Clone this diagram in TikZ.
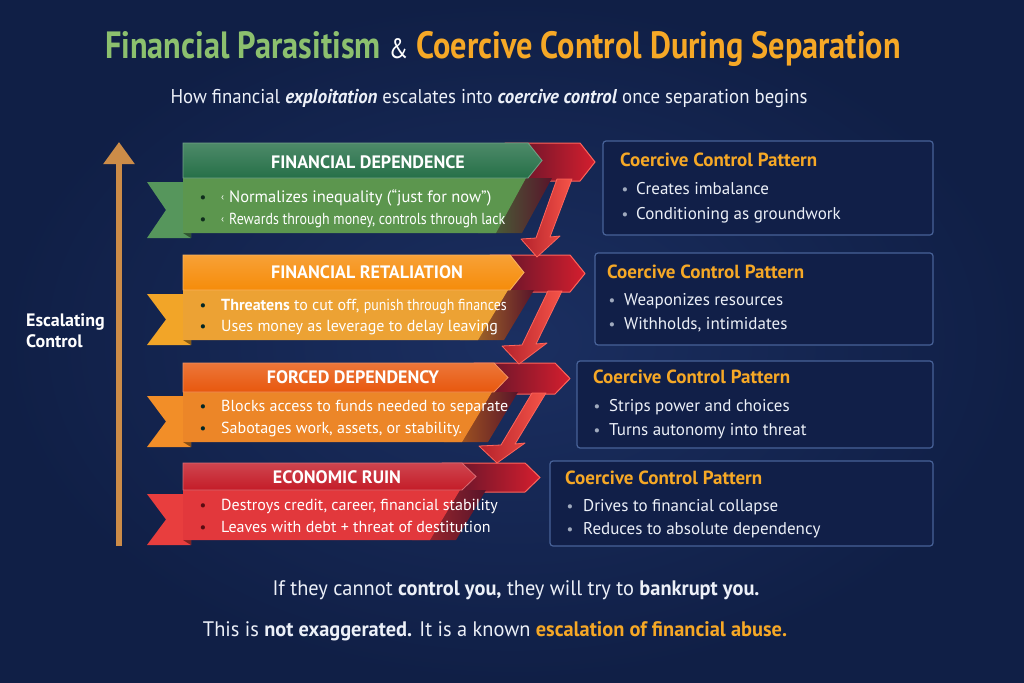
\documentclass[tikz,border=0pt]{standalone}
\usepackage{fontspec}
\setmainfont{PT Sans}
\newfontfamily\titlefont[FakeStretch=0.85]{PT Sans}
\newfontfamily\condfont[FakeStretch=0.94]{PT Sans}
\newfontfamily\bottomfont[FakeStretch=0.97]{PT Sans}
\newfontfamily\narrowfont[FakeStretch=0.87]{PT Sans}
\usetikzlibrary{arrows.meta,fadings}

\definecolor{bgA}{RGB}{27,47,97}
\definecolor{bgB}{RGB}{16,31,70}
\definecolor{tgreen}{RGB}{140,192,110}
\definecolor{torange}{RGB}{246,168,38}
\definecolor{txt}{RGB}{236,240,248}
\definecolor{linec}{RGB}{120,150,205}
\definecolor{arrowtan}{RGB}{204,140,72}
\definecolor{gH}{RGB}{38,112,72}
\definecolor{gB}{RGB}{92,150,78}
\definecolor{gT}{RGB}{86,150,92}
\definecolor{oaH}{RGB}{246,140,10}
\definecolor{oaB}{RGB}{236,162,52}
\definecolor{oaT}{RGB}{242,165,40}
\definecolor{obH}{RGB}{232,88,14}
\definecolor{obB}{RGB}{236,134,40}
\definecolor{obT}{RGB}{242,142,40}
\definecolor{rH}{RGB}{196,28,40}
\definecolor{rB}{RGB}{226,56,60}
\definecolor{rT}{RGB}{232,62,62}
\definecolor{maroon}{RGB}{88,20,42}
\definecolor{bandred}{RGB}{212,30,46}
\definecolor{bandedge}{RGB}{255,100,90}
\definecolor{shaftL}{RGB}{180,34,44}
\definecolor{shaftR}{RGB}{246,84,72}
\definecolor{boxedge}{RGB}{72,98,152}
\definecolor{boxfill}{RGB}{17,31,72}
\definecolor{dotc}{RGB}{160,170,190}

\tikzfading[name=midglow, left color=transparent!100, middle color=transparent!0, right color=transparent!100]

\tikzset{
  hdr/.style={font=\bfseries\fontsize{18}{21}\selectfont, text=white, anchor=mid, inner sep=0},
  btxt/.style={font=\fontsize{16}{19}\selectfont, text=white, anchor=mid west, inner sep=0},
  bdot/.style={font=\fontsize{15}{18}\selectfont, text=black!70, anchor=mid, inner sep=0},
  patbox/.style={draw=boxedge, fill=boxfill, line width=1.2pt, rounded corners=3pt, anchor=north west, inner sep=0, outer sep=0},
  pattitle/.style={font=\bfseries\fontsize{19}{22}\selectfont, text=torange, anchor=mid west, inner sep=0},
  ptxt/.style={font=\fontsize{17}{20}\selectfont, text=txt, anchor=mid west, inner sep=0},
  pdot/.style={font=\fontsize{15}{18}\selectfont, text=dotc, anchor=mid, inner sep=0},
  shaft/.style={left color=shaftL, right color=shaftR, draw=bandedge, line width=0.8pt, line join=round},
  sepline/.style={fill=linec, path fading=midglow},
}

% banner: #1 top, #2 header bottom, #3 body bottom, #4 header right, #5 header col, #6 body col, #7 tail col
\newcommand\drawbanner[7]{%
  \fill[#7] (147,#2+4) -- (191,#2+4) -- (191,#3+5) -- (147,#3+5) -- (166,{(#2+#3)/2+4.5}) -- cycle;
  \fill[#7!55!black] (183,#3) -- (191,#3) -- (191,#3+5) -- cycle;
  \path[left color=#6!75!black, right color=maroon] (#4-20,#2) -- (#4+24,#2) -- (#4-6,#3) -- (#4-50,#3) -- cycle;
  \fill[#6] (183,#2) -- (#4-2,#2) -- (#4-32,#3) -- (183,#3) -- cycle;
  \path[top color=#5!82!white, bottom color=#5, draw=#5!65!white, line width=0.8pt]
     (183,#1) -- (#4,#1) -- (#4+14,{(#1+#2)/2}) -- (#4,#2) -- (183,#2) -- cycle;
}
% red band: #1 top, #2 bottom, #3 start x, #4 point x
\newcommand\redband[4]{%
  \path[left color=maroon, right color=bandred, draw=bandedge, line width=1pt, line join=round]
    (#3,#1) -- (#4-15,#1) -- (#4,{(#1+#2)/2}) -- (#4-15,#2) -- (#3,#2) -- cycle;
}

\begin{document}
\begin{tikzpicture}[x=1pt,y=-1pt]
% background
\path[inner color=bgA, outer color=bgB] (0,0) rectangle (1024,682);
\useasboundingbox (0,0) rectangle (1024,682);

% separator lines
\fill[sepline] (110,75) rectangle (920,77.5);
\fill[sepline, opacity=0.45] (150,121) rectangle (880,122.5);
\fill[sepline, opacity=0.7] (160,562) rectangle (870,564);
\fill[sepline, opacity=0.8] (160,609) rectangle (880,611.5);

% title
\node[anchor=mid, inner sep=0] (title) at (503,56)
  {\titlefont\bfseries\fontsize{38}{42}\selectfont
   \textcolor{tgreen}{Financial Parasitism}
   {\mdseries\fontsize{28}{30}\selectfont\textcolor{white}{\&}}
   \textcolor{torange}{Coercive Control During Separation}};
\node[anchor=mid, inner sep=0, text=txt] (subtitle) at (489,101)
  {\condfont\fontsize{20}{24}\selectfont How financial \textbf{\textit{exploitation}} escalates into \textbf{\textit{coercive control}} once separation begins};

% red zig-zag connectors
\redband{143}{181}{505}{595}
\redband{255}{292}{490}{585}
\redband{363}{394}{474}{570}
\redband{463}{492}{442}{540}
\path[shaft] (557,179) -- (572,179) -- (550,237) -- (560,236) -- (537,257) -- (521,239) -- (536,238) -- cycle;
\path[shaft] (548,291) -- (562,291) -- (536,344) -- (547,343) -- (519,364) -- (502,346) -- (522,345) -- cycle;
\path[shaft] (532,393) -- (546,393) -- (515,444) -- (525,443) -- (497,463) -- (479,446) -- (501,445) -- cycle;

% banners
\drawbanner{143}{178}{233}{528}{gH}{gB}{gT}
\drawbanner{255}{290}{340}{510}{oaH}{oaB}{oaT}
\drawbanner{363}{392}{442}{494}{obH}{obB}{obT}
\drawbanner{463}{490}{540}{462}{rH}{rB}{rT}

% banner texts
\node[hdr] (h1) at (368,166) {FINANCIAL DEPENDENCE};
\node[bdot, text=black!60!gH] (d1a) at (203,200) {•};
\node[bdot, text=black!60!gH] (d1b) at (203,222) {•};
\node[btxt, font=\fontsize{16.5}{19}\selectfont] (t1a) at (221,200) {\raisebox{2pt}{\fontsize{10}{10}\selectfont ‹}\hspace{5pt}Normalizes inequality (“just for now”)};
\node[btxt] (t1b) at (221,222) {\raisebox{2pt}{\fontsize{10}{10}\selectfont ‹}\hspace{5pt}{\narrowfont\fontsize{16}{19}\selectfont Rewards through money, controls through lack}};

\node[hdr] (h2) at (367,276) {FINANCIAL RETALIATION};
\node[bdot, text=black!70!teal] (d2a) at (203,308) {•};
\node[bdot, text=black!70!teal] (d2b) at (203,329) {•};
\node[btxt] (t2a) at (221,308) {\textbf{Threatens} to cut off, {\narrowfont\fontsize{16}{19}\selectfont punish through finances}};
\node[btxt] (t2b) at (221,329) {Uses money as leverage to delay leaving};

\node[hdr] (h3) at (353,381) {FORCED DEPENDENCY};
\node[bdot, text=black!70!teal] (d3a) at (203,409) {•};
\node[bdot, text=black!70!teal] (d3b) at (203,431) {•};
\node[btxt] (t3a) at (221,409) {Blocks access to funds needed to separate};
\node[btxt] (t3b) at (221,431) {Sabotages work, assets, or stability.};

\node[hdr] (h4) at (337,481) {ECONOMIC RUIN};
\node[bdot, text=black!55!rH] (d4a) at (203,508) {•};
\node[bdot, text=black!55!rH] (d4b) at (203,530) {•};
\node[btxt] (t4a) at (221,508) {Destroys credit, career, financial stability};
\node[btxt] (t4b) at (221,530) {Leaves with debt + threat of destitution};

% pattern boxes
\node[patbox, minimum width=330pt, minimum height=94pt] (p1) at (603,141) {};
\node[pattitle] (p1t) at (620,164) {Coercive Control Pattern};
\node[pdot] (p1da) at (625,192) {•};
\node[ptxt] (p1a) at (636,192) {Creates imbalance};
\node[pdot] (p1db) at (625,217) {•};
\node[ptxt] (p1b) at (636,217) {Conditioning as groundwork};

\node[patbox, minimum width=338pt, minimum height=92pt] (p2) at (595,253) {};
\node[pattitle] (p2t) at (607,276) {Coercive Control Pattern};
\node[pdot] (p2da) at (612,303) {•};
\node[ptxt] (p2a) at (624,303) {Weaponizes resources};
\node[pdot] (p2db) at (612,327) {•};
\node[ptxt] (p2b) at (624,327) {Withholds, intimidates};

\node[patbox, minimum width=356pt, minimum height=87pt] (p3) at (577,361) {};
\node[pattitle] (p3t) at (593,381) {Coercive Control Pattern};
\node[pdot] (p3da) at (597,409) {•};
\node[ptxt] (p3a) at (609,409) {Strips power and choices};
\node[pdot] (p3db) at (597,433) {•};
\node[ptxt] (p3b) at (609,433) {Turns autonomy into threat};

\node[patbox, minimum width=383pt, minimum height=85pt] (p4) at (550,461) {};
\node[pattitle] (p4t) at (565,482) {Coercive Control Pattern};
\node[pdot] (p4da) at (570,509) {•};
\node[ptxt] (p4a) at (583,509) {Drives to financial collapse};
\node[pdot] (p4db) at (570,532) {•};
\node[ptxt] (p4b) at (583,532) {Reduces to absolute dependency};

% escalation arrow
\coordinate (escbot) at (119,546);
\coordinate (esctop) at (119,142);
\draw[arrowtan, line width=5.5pt, -{Triangle[width=30pt,length=22pt]}] (escbot) -- (esctop);
\node[anchor=west, align=left, inner sep=0, text=white, font=\bfseries\fontsize{18}{21}\selectfont] (esc) at (26,331) {Escalating\\Control};

% bottom statements
\node[anchor=mid, inner sep=0, text=txt] (q1) at (516,593)
  {\bottomfont\fontsize{21}{24}\selectfont If they cannot \textbf{control you,} they will try to \textbf{bankrupt you.}};
\node[anchor=mid, inner sep=0, text=txt] (q2) at (495,634)
  {\bottomfont\fontsize{21}{24}\selectfont This is \textbf{not exaggerated.} It is a known \textbf{\textcolor{torange}{escalation of financial abuse.}}};
\end{tikzpicture}
\end{document}
